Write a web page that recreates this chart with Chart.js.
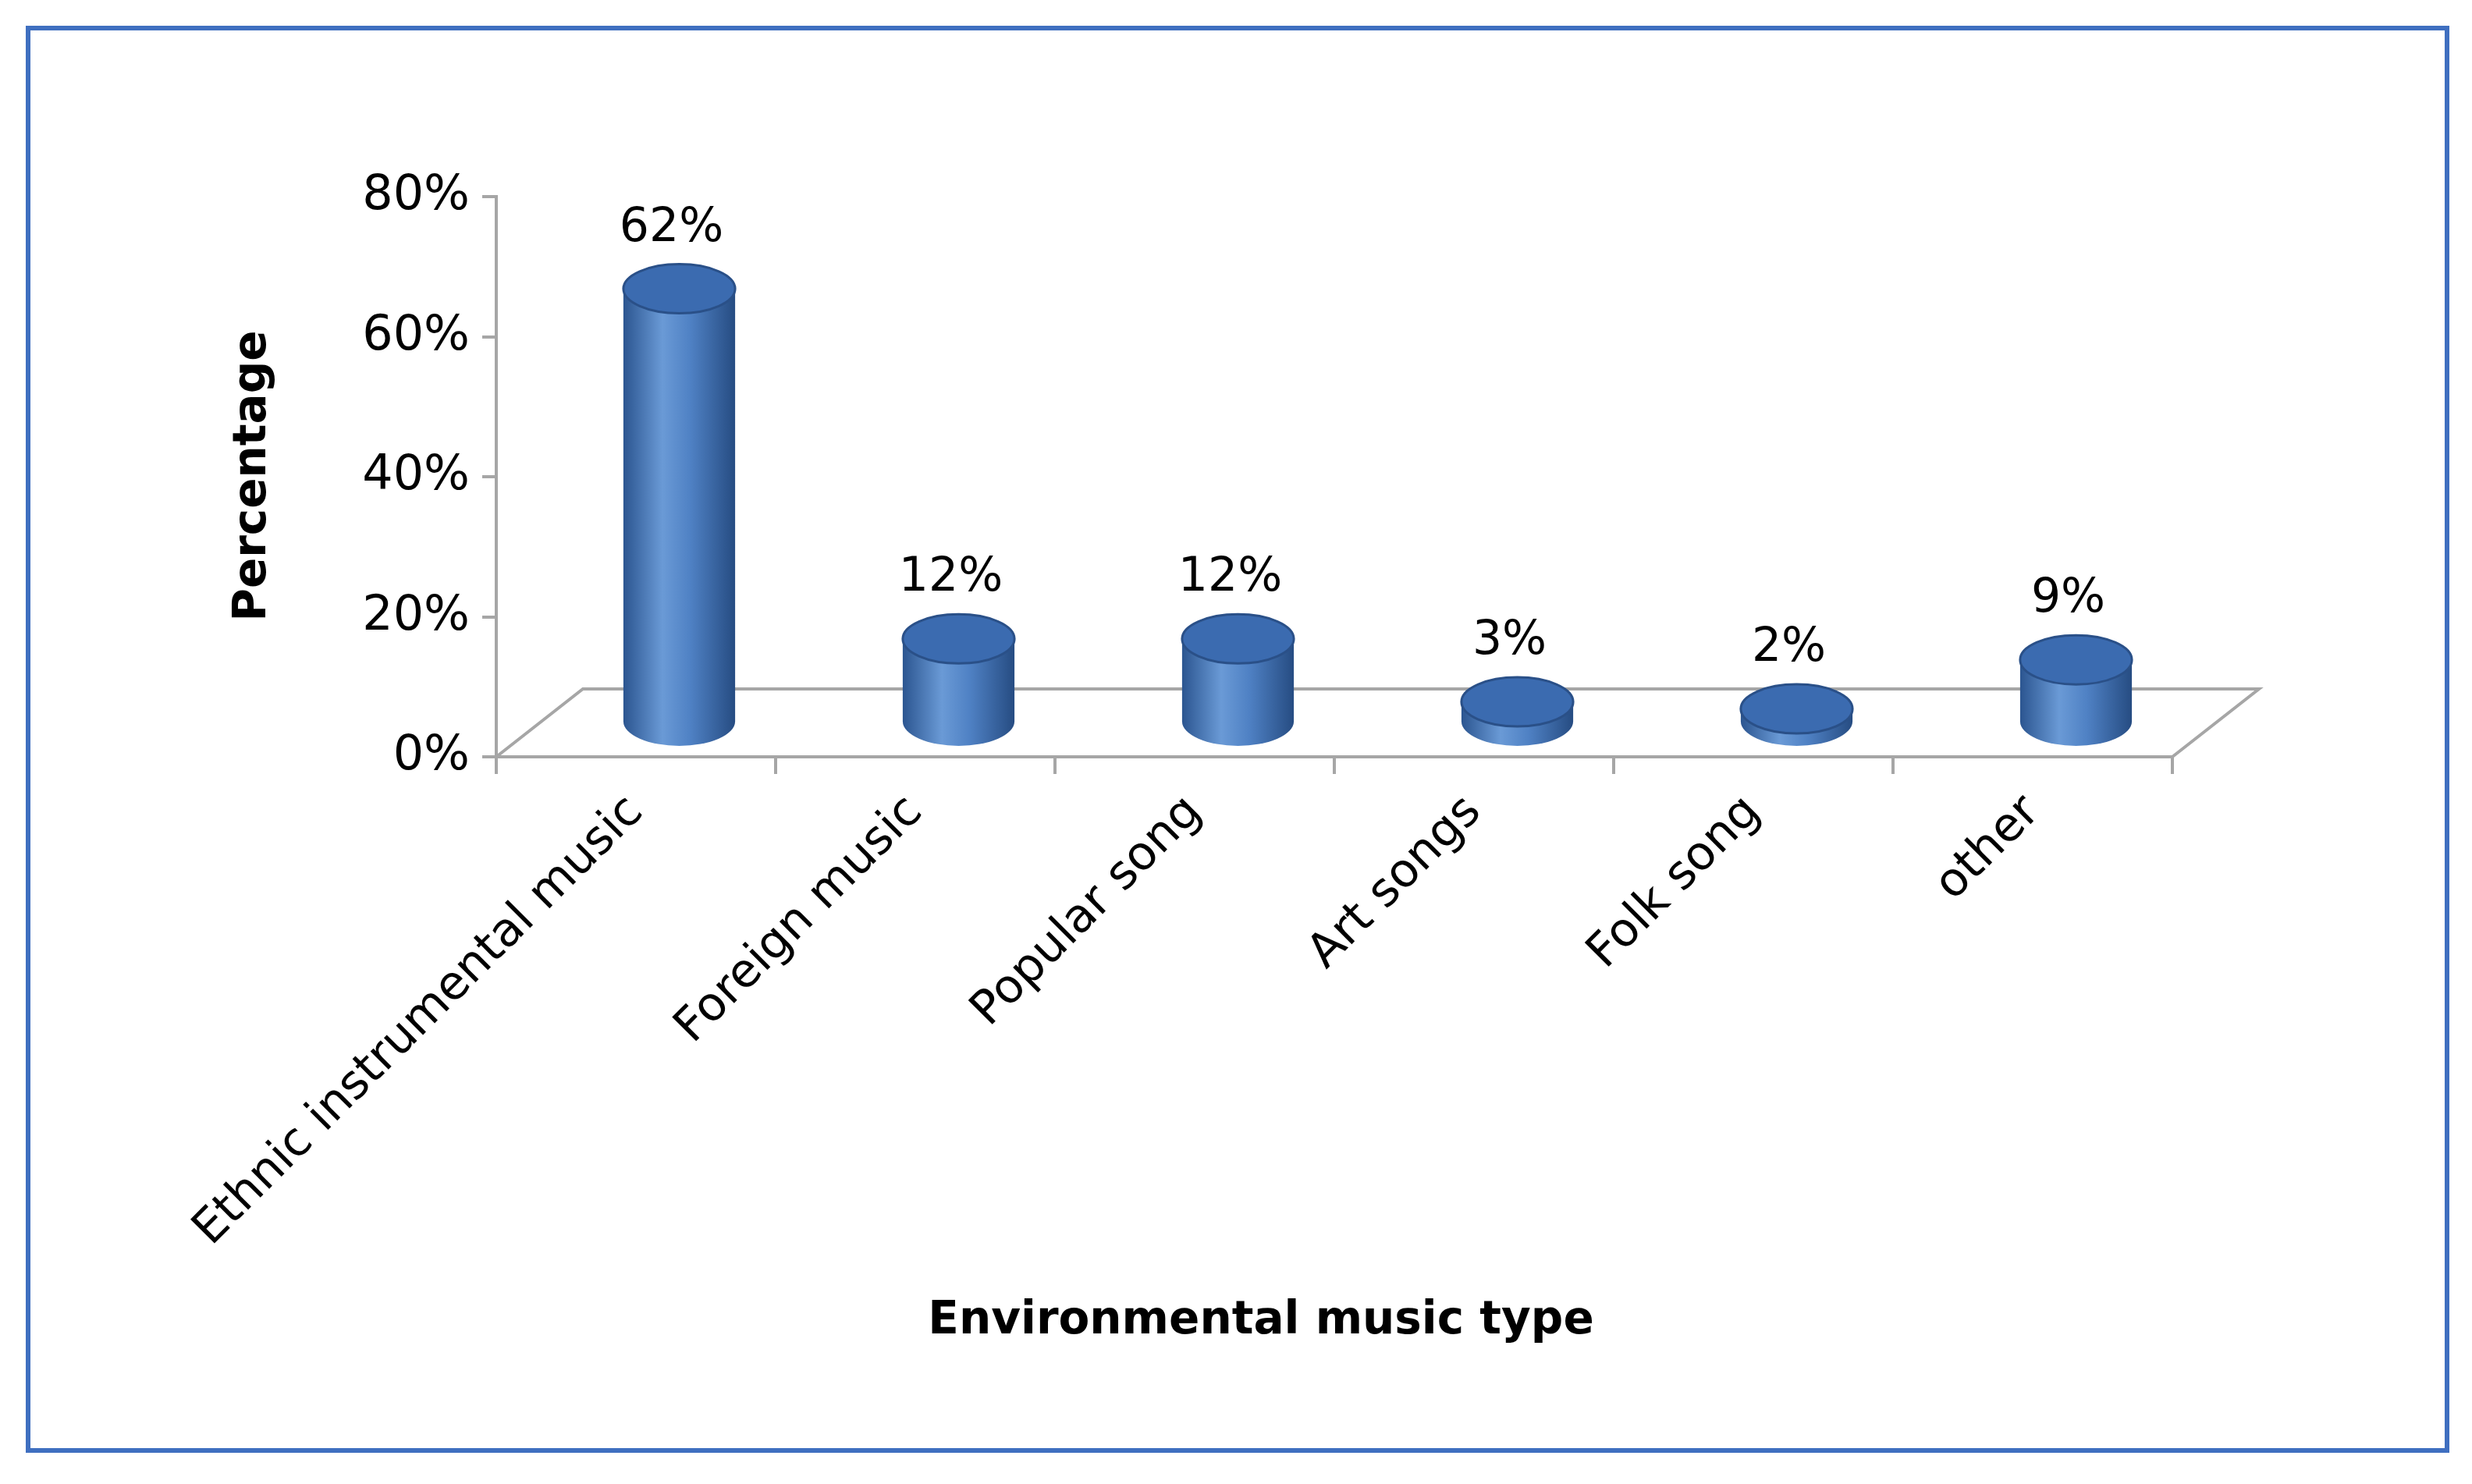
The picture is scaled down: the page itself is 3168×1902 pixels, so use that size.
<!DOCTYPE html>
<html>
<head>
<meta charset="utf-8">
<script src="https://cdn.jsdelivr.net/npm/chart.js@4"></script>
<style>
  html, body { margin: 0; padding: 0; background: #fff; }
  #wrap { width: 3168px; height: 1902px; }
</style>
</head>
<body>
<div id="wrap"><canvas id="chart" width="3168" height="1902"></canvas></div>
<script>
const categories = ["Ethnic instrumental music", "Foreign music", "Popular song", "Art songs", "Folk song", "other"];
const values = [0.62, 0.12, 0.12, 0.03, 0.02, 0.09];
const valueLabels = ["62%", "12%", "12%", "3%", "2%", "9%"];
const yTicks = [0, 0.2, 0.4, 0.6, 0.8];

const FONT = "'DejaVu Sans', Verdana, sans-serif";
const DX = 111, DY = 87; // depth of the 3D floor

const cylinders = {
  id: 'cylinders',
  beforeDatasetsDraw(chart) {
    const ctx = chart.ctx, a = chart.chartArea;
    // floor
    ctx.save();
    ctx.strokeStyle = '#a6a6a6';
    ctx.lineWidth = 4;
    ctx.beginPath();
    ctx.moveTo(a.left, a.bottom);
    ctx.lineTo(a.left + DX, a.bottom - DY);
    ctx.lineTo(a.right + DX, a.bottom - DY);
    ctx.lineTo(a.right, a.bottom);
    ctx.stroke();
    ctx.restore();
  },
  afterDatasetsDraw(chart) {
    const ctx = chart.ctx;
    const meta = chart.getDatasetMeta(0);
    meta.data.forEach((bar, i) => {
      const w = bar.width;
      const cx = bar.x + DX / 2;
      const base = bar.base - DY / 2;
      const top = bar.y - DY / 2;
      const rx = w / 2, ry = w * 0.22;
      const g = ctx.createLinearGradient(cx - rx, 0, cx + rx, 0);
      g.addColorStop(0, '#2b5590');
      g.addColorStop(0.35, '#6a9ad6');
      g.addColorStop(0.6, '#4f81c4');
      g.addColorStop(1, '#264c82');
      ctx.save();
      ctx.fillStyle = g;
      ctx.beginPath();
      ctx.moveTo(cx - rx, top);
      ctx.lineTo(cx - rx, base);
      ctx.ellipse(cx, base, rx, ry, 0, Math.PI, 0, true);
      ctx.lineTo(cx + rx, top);
      ctx.closePath();
      ctx.fill();
      ctx.fillStyle = '#3b6bb0';
      ctx.strokeStyle = '#2a5088';
      ctx.lineWidth = 3;
      ctx.beginPath();
      ctx.ellipse(cx, top, rx, ry, 0, 0, Math.PI * 2);
      ctx.fill();
      ctx.stroke();
      // value label
      ctx.fillStyle = '#000';
      ctx.font = '60px ' + FONT;
      ctx.textAlign = 'center';
      ctx.textBaseline = 'alphabetic';
      ctx.fillText(valueLabels[i], cx - 10, top - ry - 30);
      ctx.restore();
    });
  },
  afterDraw(chart) {
    const ctx = chart.ctx;
    ctx.save();
    // border
    ctx.strokeStyle = '#3f6fc0';
    ctx.lineWidth = 6;
    ctx.strokeRect(36, 36, 3100, 1823);
    // titles
    ctx.fillStyle = '#000';
    ctx.font = 'bold 58px ' + FONT;
    ctx.textAlign = 'center';
    ctx.textBaseline = 'middle';
    ctx.fillText('Environmental music type', 1616, 1694);
    ctx.translate(325, 610);
    ctx.rotate(-Math.PI / 2);
    ctx.fillText('Percentage', 0, 0);
    ctx.restore();
  }
};

new Chart(document.getElementById('chart'), {
  type: 'bar',
  data: {
    labels: categories,
    datasets: [{
      data: values,
      backgroundColor: 'rgba(0,0,0,0)',
      borderWidth: 0,
      barPercentage: 0.4,
      categoryPercentage: 1
    }]
  },
  options: {
    responsive: false,
    animation: false,
    layout: { padding: { left: 0, top: 252, right: 384, bottom: 0 } },
    plugins: { legend: { display: false }, tooltip: { enabled: false } },
    scales: {
      x: {
        afterFit: s => { s.height = 932; },
        grid: { display: true, drawOnChartArea: false, offset: true, tickLength: 22, color: '#a6a6a6', lineWidth: 4 },
        border: { display: true, color: '#a6a6a6', width: 4 },
        ticks: { maxRotation: 45, minRotation: 45, color: '#000', font: { family: FONT, size: 60 }, padding: 14 }
      },
      y: {
        min: 0, max: 0.8,
        afterFit: s => { s.width = 636; },
        afterBuildTicks: s => { s.ticks = yTicks.map(v => ({ value: v })); },
        grid: { display: true, drawOnChartArea: false, tickLength: 18, color: '#a6a6a6', lineWidth: 4 },
        border: { display: true, color: '#a6a6a6', width: 4 },
        ticks: { color: '#000', font: { family: FONT, size: 62 }, padding: 16, callback: v => Math.round(v * 100) + '%' }
      }
    }
  },
  plugins: [cylinders]
});
</script>
</body>
</html>
